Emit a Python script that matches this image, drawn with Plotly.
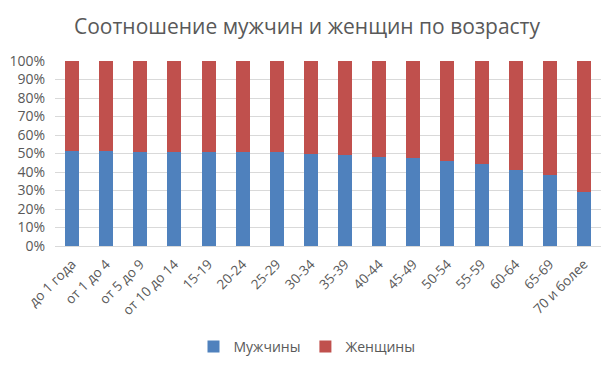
import plotly.graph_objects as go

categories = ["до 1 года", "от 1 до 4", "от 5 до 9", "от 10 до 14", "15-19", "20-24",
              "25-29", "30-34", "35-39", "40-44", "45-49", "50-54", "55-59", "60-64",
              "65-69", "70 и более"]
men = [51.4, 51.3, 50.9, 50.8, 50.8, 50.8, 50.7, 49.9, 49.2, 48.1, 47.7, 46.1, 44.3, 41.1, 38.2, 29.2]
women = [48.6, 48.7, 49.1, 49.2, 49.2, 49.2, 49.3, 50.1, 50.8, 51.9, 52.3, 53.9, 55.7, 58.9, 61.8, 70.8]
y_ticks = [0, 10, 20, 30, 40, 50, 60, 70, 80, 90, 100]
y_labels = ["0%", "10%", "20%", "30%", "40%", "50%", "60%", "70%", "80%", "90%", "100%"]

FONT = "Open Sans"
GREY = "#595959"

fig = go.Figure()
fig.add_trace(go.Bar(x=categories, y=men, name="Мужчины", marker_color="#4F81BD",
                     marker_line_width=0))
fig.add_trace(go.Bar(x=categories, y=women, name="Женщины", marker_color="#C0504D",
                     marker_line_width=0))

# page body adds an 8px offset; the figure is sized to fill the rest of the window
OFF = 8
W, H = 614 - OFF, 365 - OFF
L, T = 55 - OFF, 61 - OFF
R, B = 13, 365 - 246
pw, ph = W - L - R, H - T - B

fig.update_layout(
    width=W, height=H,
    barmode="stack", bargap=0.59,
    plot_bgcolor="white", paper_bgcolor="white",
    margin=dict(l=L, r=R, t=T, b=B, autoexpand=False),
    font=dict(family=FONT, color=GREY, size=14),
    title=dict(text="Соотношение мужчин и женщин по возрасту",
               x=(307 - OFF) / W, xanchor="center", y=1 - (27 - OFF) / H, yanchor="middle",
               font=dict(family=FONT, size=21, color=GREY)),
    legend=dict(orientation="h", x=(307 - OFF) / W, xref="container", xanchor="center",
                y=-(347 - 246) / ph, yanchor="middle",
                font=dict(family=FONT, size=14, color=GREY), traceorder="normal"),
    showlegend=True,
)
fig.update_yaxes(range=[0, 100], tickvals=y_ticks, ticktext=y_labels, showgrid=True,
                 gridcolor="#D9D9D9", gridwidth=1, zeroline=False, showline=False,
                 ticks="", automargin=False, ticklabelstandoff=9,
                 tickfont=dict(size=14, color=GREY))
fig.update_xaxes(tickangle=-45, showgrid=False, showline=True, linecolor="#D9D9D9",
                 ticks="", automargin=False, ticklabelstandoff=4,
                 tickfont=dict(size=13.5, color=GREY))

fig.write_html("out.html")
